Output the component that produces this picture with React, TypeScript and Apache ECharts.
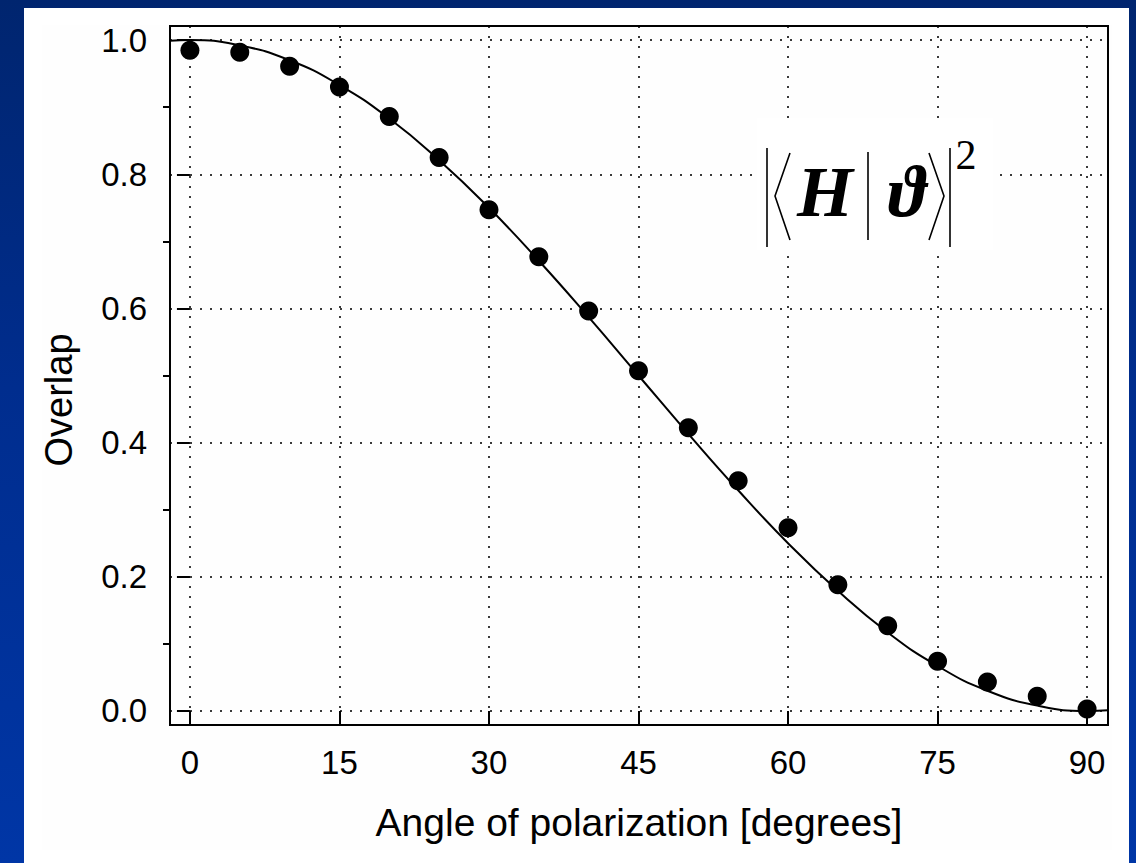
import React, { useEffect, useRef } from "react";
import * as echarts from "echarts";

// Measured points (angle in degrees, overlap)
const measuredAngles = [0, 5, 10, 15, 20, 25, 30, 35, 40, 45, 50, 55, 60, 65, 70, 75, 80, 85, 90];
const measuredOverlap = [0.985, 0.982, 0.961, 0.930, 0.886, 0.825, 0.747, 0.677, 0.596, 0.507, 0.422, 0.343, 0.273, 0.188, 0.127, 0.074, 0.043, 0.022, 0.003];

// Theory curve
const curveAngles = [-2, 0, 5, 10, 15, 20, 25, 30, 35, 40, 45, 50, 55, 60, 65, 70, 75, 80, 85, 90, 92.1];
const curveOverlap = [0.999, 1.0, 0.992, 0.970, 0.933, 0.883, 0.821, 0.750, 0.671, 0.587, 0.5, 0.413, 0.329, 0.250, 0.179, 0.117, 0.067, 0.030, 0.008, 0.0, 0.001];

const xTickValues = [0, 15, 30, 45, 60, 75, 90];
const yTickValues = [0, 0.2, 0.4, 0.6, 0.8, 1.0];
const yMinorTickValues = [0.1, 0.3, 0.5, 0.7, 0.9];

const xTitle = "Angle of polarization [degrees]";
const yTitle = "Overlap";

const SANS = "'Liberation Sans', Arial, Helvetica, sans-serif";
const SERIF = "'Liberation Serif', 'Times New Roman', serif";

export default function App() {
  const ref = useRef<HTMLDivElement>(null);

  useEffect(() => {
    if (!ref.current) return;
    const chart = echarts.init(ref.current, undefined, { renderer: "svg" });

    const gridLine = { color: "#3a3a3a", width: 2, type: [2, 8] as number[] };

    chart.setOption({
      animation: false,
      backgroundColor: "transparent",
      grid: {
        left: 170,
        right: 28,
        top: 26,
        bottom: 138,
        show: true,
        borderColor: "#000",
        borderWidth: 2,
        backgroundColor: "transparent",
        z: 1,
      },
      xAxis: {
        type: "value",
        min: -2,
        max: 92.1,
        axisLine: { show: false },
        axisTick: {
          show: true,
          inside: false,
          length: 13,
          customValues: xTickValues,
          lineStyle: { color: "#000", width: 2 },
        },
        axisLabel: {
          customValues: xTickValues,
          margin: 21,
          fontSize: 33,
          fontFamily: SANS,
          color: "#000",
        },
        splitLine: { show: true, lineStyle: gridLine },
        name: xTitle,
        nameLocation: "middle",
        nameGap: 78,
        nameTextStyle: { fontSize: 39, fontFamily: SANS, color: "#000" },
      },
      yAxis: [
        {
          type: "value",
          min: -0.021,
          max: 1.021,
          axisLine: { show: false },
          axisTick: {
            show: true,
            inside: false,
            length: 13,
            customValues: yTickValues,
            lineStyle: { color: "#000", width: 2 },
          },
          axisLabel: {
            customValues: yTickValues,
            margin: 23,
            fontSize: 33,
            fontFamily: SANS,
            color: "#000",
            formatter: (v: number) => v.toFixed(1),
          },
          splitLine: { show: true, lineStyle: gridLine },
        },
        {
          type: "value",
          min: -0.021,
          max: 1.021,
          position: "left",
          axisLine: { show: false },
          axisTick: {
            show: true,
            inside: false,
            length: 7,
            customValues: yMinorTickValues,
            lineStyle: { color: "#000", width: 2 },
          },
          axisLabel: { show: false },
          splitLine: { show: false },
        },
      ],
      graphic: [
        { type: "rect", z: -20, silent: true, shape: { x: 24, y: 8, width: 1105, height: 855 }, style: { fill: "#ffffff" } },
        { type: "rect", z: -19, silent: true, shape: { x: 42, y: 25, width: 1070, height: 825 }, style: { fill: "#fefefe" } },
        {
          type: "text",
          z: 10,
          x: 59,
          y: 400,
          rotation: Math.PI / 2,
          style: { text: yTitle, fontSize: 38, fontFamily: SANS, fill: "#000", textAlign: "center", textVerticalAlign: "middle" },
        },
        // formula box
        { type: "rect", z: 10, silent: true, shape: { x: 757, y: 118, width: 236, height: 132 }, style: { fill: "#ffffff" } },
        { type: "line", z: 11, shape: { x1: 767, y1: 148, x2: 767, y2: 247 }, style: { stroke: "#000", lineWidth: 1.6 } },
        { type: "polyline", z: 11, shape: { points: [[790, 153], [775, 196], [790, 240]] }, style: { stroke: "#000", lineWidth: 1.6, fill: null } },
        {
          type: "text",
          z: 11,
          x: 825,
          y: 192,
          style: { text: "H", fontSize: 72, fontStyle: "italic", fontWeight: "bold", fontFamily: SERIF, fill: "#000", textAlign: "center", textVerticalAlign: "middle" },
        },
        { type: "line", z: 11, shape: { x1: 868, y1: 152, x2: 868, y2: 240 }, style: { stroke: "#000", lineWidth: 1.6 } },
        {
          type: "text",
          z: 11,
          x: 907,
          y: 192,
          style: { text: "\u03D1", fontSize: 72, fontStyle: "italic", fontWeight: "bold", fontFamily: SERIF, fill: "#000", textAlign: "center", textVerticalAlign: "middle" },
        },
        { type: "polyline", z: 11, shape: { points: [[929, 153], [944, 196], [929, 240]] }, style: { stroke: "#000", lineWidth: 1.6, fill: null } },
        { type: "line", z: 11, shape: { x1: 950, y1: 148, x2: 950, y2: 247 }, style: { stroke: "#000", lineWidth: 1.6 } },
        {
          type: "text",
          z: 11,
          x: 966,
          y: 155,
          style: { text: "2", fontSize: 42, fontFamily: SERIF, fill: "#000", textAlign: "center", textVerticalAlign: "middle" },
        },
      ],
      series: [
        {
          type: "line",
          data: curveAngles.map((a, i) => [a, curveOverlap[i]]),
          smooth: true,
          showSymbol: false,
          symbol: "none",
          lineStyle: { color: "#000", width: 2 },
          z: 3,
          silent: true,
        },
        {
          type: "scatter",
          data: measuredAngles.map((a, i) => [a, measuredOverlap[i]]),
          symbol: "circle",
          symbolSize: 19,
          itemStyle: { color: "#000", opacity: 1 },
          z: 4,
        },
      ],
    });

    return () => chart.dispose();
  }, []);

  return (
    <div
      ref={ref}
      style={{
        position: "fixed",
        left: 0,
        top: 0,
        width: 1136,
        height: 863,
        background: "linear-gradient(180deg, #00256f 0%, #002d8e 45%, #0036a6 100%)",
      }}
    />
  );
}
